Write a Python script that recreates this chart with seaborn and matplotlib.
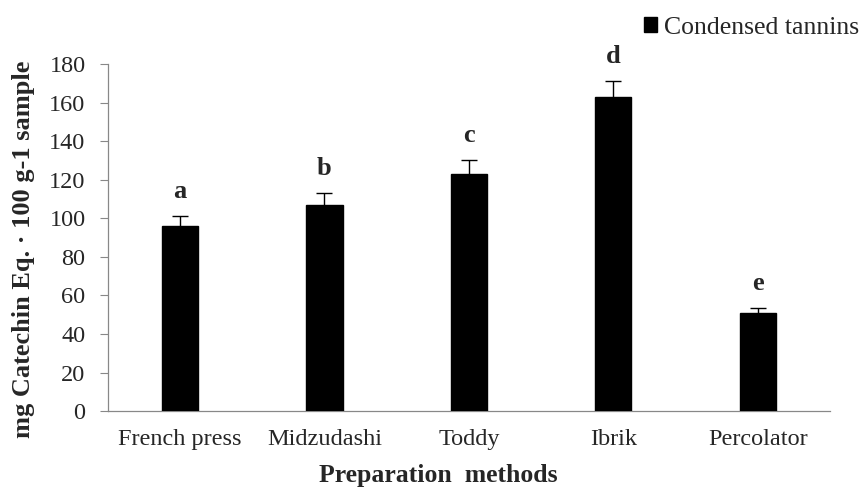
import matplotlib
matplotlib.use("Agg")
import matplotlib.pyplot as plt
import seaborn as sns
import pandas as pd
from matplotlib.patches import Patch

methods = ["French press", "Midzudashi", "Toddy", "Ibrik", "Percolator"]
tannins = [96, 107, 123, 163, 51]
sd = [5, 6, 7, 8, 2.5]
groups = ["a", "b", "c", "d", "e"]
yticks = [0, 20, 40, 60, 80, 100, 120, 140, 160, 180]

sns.set_theme(style="white")
plt.rcParams["font.family"] = ["Liberation Serif", "DejaVu Serif"]

df = pd.DataFrame({"method": methods, "value": tannins})

fig = plt.figure(figsize=(8.62, 4.96), dpi=100)
ax = fig.add_axes([0.125, 0.171, 0.838, 0.700])

sns.barplot(data=df, x="method", y="value", color="black", width=0.25,
            errorbar=None, ax=ax, zorder=3)
for p in ax.patches:
    p.set_facecolor("black")
    p.set_edgecolor("black")

xs = ax.get_xticks()
ax.errorbar(xs, tannins, yerr=sd, fmt="none", ecolor="black",
            elinewidth=1.0, capsize=6, capthick=1.0, zorder=4)

# significance letters above each error bar
for x, v, e, g in zip(xs, tannins, sd, groups):
    ax.text(x, v + e + 9.5, g, ha="center", va="baseline",
            fontsize=19, fontweight="bold")

ax.set_ylim(0, 180)
ax.set_yticks(yticks)
ax.set_xlim(-0.5, len(methods) - 0.5)
ax.tick_params(axis="y", which="both", left=True, length=6, width=0.8,
               color="#888888", labelsize=17.5, pad=10)
ax.tick_params(axis="x", bottom=False, labelsize=17.5, pad=7)

for s in ["top", "right"]:
    ax.spines[s].set_visible(False)
for s in ["left", "bottom"]:
    ax.spines[s].set_color("#888888")
    ax.spines[s].set_linewidth(0.9)

ax.set_xlabel("Preparation  methods", fontsize=18.5, fontweight="bold", labelpad=10)
ax.xaxis.label.set_x(0.458)
ax.set_ylabel("mg Catechin Eq. · 100 g-1 sample", fontsize=19,
              fontweight="bold", labelpad=10)
ax.yaxis.label.set_y(0.467)

handle = Patch(facecolor="black", edgecolor="black", label="Condensed tannins")
fig.legend(handles=[handle], loc="upper right", bbox_to_anchor=(1.006, 0.982),
           frameon=False, fontsize=18.5, handlelength=0.5, handleheight=0.5,
           handletextpad=0.3, borderaxespad=0.0, borderpad=0.3)

fig.savefig("out.png", dpi=100)
